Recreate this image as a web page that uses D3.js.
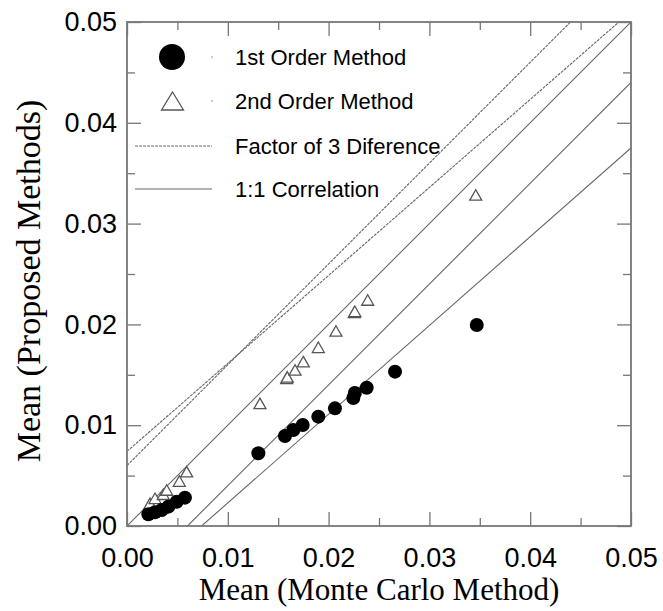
<!DOCTYPE html>
<html>
<head>
<meta charset="utf-8">
<script src="https://cdn.jsdelivr.net/npm/d3@7"></script>
<style>
  html, body { margin: 0; padding: 0; background: #fff; }
  svg { display: block; }
</style>
</head>
<body>
<svg id="chart" width="663" height="611"></svg>
<script>
// ---- data ----
const firstX = [0.00212, 0.00278, 0.00344, 0.0041, 0.00493, 0.00575, 0.01303, 0.01567, 0.0165, 0.01743, 0.01898, 0.02063, 0.02245, 0.0226, 0.02378, 0.02659, 0.0347];
const firstY = [0.00116, 0.00136, 0.00159, 0.00192, 0.00241, 0.00281, 0.00721, 0.00893, 0.00952, 0.01002, 0.01085, 0.01167, 0.0127, 0.0132, 0.01372, 0.01531, 0.01994];
const secondX = [0.00228, 0.00278, 0.0036, 0.00394, 0.00519, 0.00592, 0.01319, 0.01584, 0.0159, 0.01667, 0.01749, 0.01898, 0.02073, 0.02255, 0.0226, 0.02388, 0.0346];
const secondY = [0.00225, 0.00275, 0.00315, 0.00357, 0.00446, 0.00539, 0.01217, 0.01465, 0.0148, 0.01548, 0.0163, 0.01773, 0.01935, 0.0212, 0.0213, 0.02242, 0.03284];
// reference lines [x1, y1, x2, y2]
const factorLines = [[0, 0.0074, 0.0488, 0.05], [0, 0.006, 0.044, 0.05]];
const corrLines = [[0, 0, 0.05, 0.05], [0.006, 0, 0.05, 0.044], [0.0074, 0, 0.05, 0.0375]];
const majorTicks = [0, 0.01, 0.02, 0.03, 0.04, 0.05];
const minorTicks = [0.005, 0.015, 0.025, 0.035, 0.045];
const legendLabels = ["1st Order Method", "2nd Order Method", "Factor of 3 Diference", "1:1 Correlation"];
const xTitle = "Mean (Monte Carlo Method)";
const yTitle = "Mean (Proposed Methods)";

// ---- layout ----
const L = 127, T = 22, R = 631, B = 526;
const svg = d3.select("#chart");
const x = d3.scaleLinear().domain([0, 0.05]).range([L, R]);
const y = d3.scaleLinear().domain([0, 0.05]).range([B, T]);
const frameColor = "#777";
const lineColor = "#666";

// clip
svg.append("clipPath").attr("id", "clip").append("rect")
  .attr("x", L).attr("y", T).attr("width", R - L).attr("height", B - T);

const plot = svg.append("g").attr("clip-path", "url(#clip)");

// reference lines
plot.selectAll("line.factor").data(factorLines).join("line")
  .attr("class", "factor")
  .attr("x1", d => x(d[0])).attr("y1", d => y(d[1]))
  .attr("x2", d => x(d[2])).attr("y2", d => y(d[3]))
  .attr("stroke", lineColor).attr("stroke-width", 1.1)
  .attr("stroke-dasharray", "3,1");
plot.selectAll("line.corr").data(corrLines).join("line")
  .attr("class", "corr")
  .attr("x1", d => x(d[0])).attr("y1", d => y(d[1]))
  .attr("x2", d => x(d[2])).attr("y2", d => y(d[3]))
  .attr("stroke", lineColor).attr("stroke-width", 1.1);

// triangle path helper
function triPath(cx, cy, w, h) {
  return `M${cx},${cy - h / 2}L${cx + w / 2},${cy + h / 2}L${cx - w / 2},${cy + h / 2}Z`;
}

// 2nd order triangles
const second = secondX.map((v, i) => [v, secondY[i]]);
plot.selectAll("path.tri").data(second).join("path")
  .attr("class", "tri")
  .attr("d", d => triPath(x(d[0]), y(d[1]), 12, 10.5))
  .attr("fill", "#fff").attr("stroke", "#555").attr("stroke-width", 1.3);

// 1st order dots
const first = firstX.map((v, i) => [v, firstY[i]]);
plot.selectAll("circle.dot").data(first).join("circle")
  .attr("class", "dot")
  .attr("cx", d => x(d[0])).attr("cy", d => y(d[1]))
  .attr("r", 7).attr("fill", "#000");

// axes
function styleAxis(g) {
  g.select(".domain").remove();
  g.selectAll(".tick line").attr("stroke", frameColor).attr("stroke-width", 1.3);
  g.selectAll(".tick text").attr("fill", "#000")
    .style("font-family", "'Liberation Sans', Arial, sans-serif")
    .style("font-size", "27px");
}
const fmt = d3.format(".2f");
svg.append("g").attr("transform", `translate(0,${B})`)
  .call(d3.axisBottom(x).tickValues(majorTicks).tickSize(-14).tickPadding(22).tickFormat(fmt))
  .call(styleAxis);
svg.append("g").attr("transform", `translate(0,${B})`)
  .call(d3.axisBottom(x).tickValues(minorTicks).tickSize(-8).tickFormat(""))
  .call(styleAxis);
svg.append("g").attr("transform", `translate(0,${T})`)
  .call(d3.axisTop(x).tickValues(majorTicks).tickSize(-14).tickFormat(""))
  .call(styleAxis);
svg.append("g").attr("transform", `translate(0,${T})`)
  .call(d3.axisTop(x).tickValues(minorTicks).tickSize(-8).tickFormat(""))
  .call(styleAxis);
svg.append("g").attr("transform", `translate(${L},0)`)
  .call(d3.axisLeft(y).tickValues(majorTicks).tickSize(-14).tickPadding(10).tickFormat(fmt))
  .call(styleAxis);
svg.append("g").attr("transform", `translate(${L},0)`)
  .call(d3.axisLeft(y).tickValues(minorTicks).tickSize(-8).tickFormat(""))
  .call(styleAxis);
svg.append("g").attr("transform", `translate(${R},0)`)
  .call(d3.axisRight(y).tickValues(majorTicks).tickSize(-14).tickFormat(""))
  .call(styleAxis);
svg.append("g").attr("transform", `translate(${R},0)`)
  .call(d3.axisRight(y).tickValues(minorTicks).tickSize(-8).tickFormat(""))
  .call(styleAxis);

// frame
svg.append("rect").attr("x", L).attr("y", T).attr("width", R - L).attr("height", B - T)
  .attr("fill", "none").attr("stroke", frameColor).attr("stroke-width", 1.8);

// legend
const legY = [57, 101, 146, 189];
const lg = svg.append("g");
lg.append("circle").attr("cx", 172).attr("cy", legY[0]).attr("r", 13).attr("fill", "#000");
lg.append("circle").attr("cx", 212).attr("cy", legY[0]).attr("r", 0.8).attr("fill", "#888");
lg.append("path").attr("d", triPath(172.5, legY[1], 22, 18))
  .attr("fill", "#fff").attr("stroke", "#555").attr("stroke-width", 1.3);
lg.append("circle").attr("cx", 212).attr("cy", legY[1]).attr("r", 0.8).attr("fill", "#888");
lg.append("line").attr("x1", 135).attr("x2", 212).attr("y1", legY[2]).attr("y2", legY[2])
  .attr("stroke", lineColor).attr("stroke-width", 1.1).attr("stroke-dasharray", "3,1");
lg.append("line").attr("x1", 135).attr("x2", 212).attr("y1", legY[3]).attr("y2", legY[3])
  .attr("stroke", lineColor).attr("stroke-width", 1.1);
lg.selectAll("text").data(legendLabels).join("text")
  .attr("x", 235).attr("y", (d, i) => legY[i]).attr("dy", "0.35em")
  .style("font-family", "'Liberation Sans', Arial, sans-serif")
  .style("font-size", "22px").attr("fill", "#000")
  .text(d => d);

// axis titles
svg.append("text").attr("x", (L + R) / 2).attr("y", 600)
  .attr("text-anchor", "middle")
  .style("font-family", "'Liberation Serif', 'Times New Roman', serif")
  .style("font-size", "31px").attr("fill", "#000")
  .text(xTitle);
svg.append("text").attr("transform", `translate(40,${(T + B) / 2 + 7}) rotate(-90)`)
  .attr("text-anchor", "middle")
  .style("font-family", "'Liberation Serif', 'Times New Roman', serif")
  .style("font-size", "34px").attr("fill", "#000")
  .text(yTitle);
</script>
</body>
</html>
